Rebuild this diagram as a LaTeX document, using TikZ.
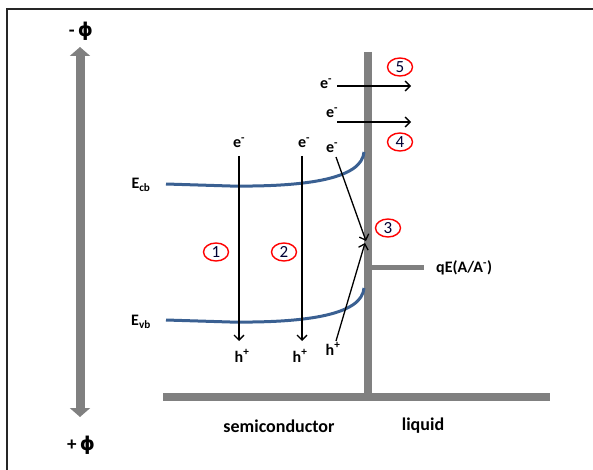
\documentclass[tikz,border=0pt]{standalone}
\usepackage{fontspec}
\setmainfont{Carlito}
\newfontfamily\phifont{DejaVu Sans}
\usetikzlibrary{arrows.meta,shapes.geometric}
\definecolor{bargray}{RGB}{128,128,128}
\definecolor{bandblue}{RGB}{58,96,146}
\tikzset{
  lbl/.style={font=\bfseries\fontsize{16}{18}\selectfont, inner sep=0pt},
  biglbl/.style={font=\bfseries\fontsize{18}{20}\selectfont, inner sep=0pt},
  philbl/.style={font=\bfseries\fontsize{19}{22}\selectfont, inner sep=0pt},
  num/.style={ellipse, draw=red, line width=1.4pt, minimum width=25pt, minimum height=18pt, inner sep=0pt, font=\fontsize{17}{18}\selectfont, text=black!80!blue},
  bar/.style={draw=bargray, line width=8pt},
  band/.style={draw=bandblue, line width=3pt},
  transit/.style={draw=black, line width=1.3pt, -{Straight Barb[length=5pt,width=10pt,line width=1.3pt]}},
}
\begin{document}
\begin{tikzpicture}[x=1pt,y=-1pt]
\useasboundingbox (0,0) rectangle (593,470);
% frame
\draw[line width=1.3pt, black!85] (7,470) -- (7,9) -- (593,9);
% potential axis
\coordinate (ptop) at (80,47);
\coordinate (pbot) at (80,417);
\draw[bargray, line width=9pt, {Triangle[length=9pt,width=20pt]}-{Triangle[length=9pt,width=20pt]}] (ptop) -- (pbot);
\node[philbl] (mphi) at (81,31) {-\,{\phifont ϕ}};
\node[philbl] (pphi) at (81,445) {+\,{\phifont ϕ}};
% bars
\coordinate (vtop) at (368,52);
\coordinate (vbot) at (368,397);
\coordinate (hl) at (163,397);
\coordinate (hr) at (550,397);
\draw[bar] (vtop) -- (vbot);
\draw[bar] (hl) -- (hr);
\coordinate (qs) at (372,267);
\coordinate (qe) at (424,267);
\draw[bargray, line width=5pt] (qs) -- (qe);
\node[lbl, anchor=west] (qE) at (436,268) {qE(A/A\textsuperscript{-})};
% bands
\draw[band] (166,184) -- (230,186) .. controls (310,187) and (362,178) .. (364,152);
\draw[band] (166,320) -- (230,322) .. controls (310,323) and (362,314) .. (364,288);
\node[lbl] (Ecb) at (141,185) {E\textsubscript{cb}};
\node[lbl] (Evb) at (141,322) {E\textsubscript{vb}};
% transitions 1 and 2
\node[lbl] (e1) at (239,143) {e\textsuperscript{-}};
\node[lbl] (e2) at (304,143) {e\textsuperscript{-}};
\node[lbl] (h1) at (242,356) {h\textsuperscript{+}};
\node[lbl] (h2) at (300,356) {h\textsuperscript{+}};
\coordinate (a1s) at (239,156);
\coordinate (a1e) at (239,341);
\coordinate (a2s) at (302,156);
\coordinate (a2e) at (302,341);
\draw[transit] (a1s) -- (a1e);
\draw[transit] (a2s) -- (a2e);
% transition 3
\node[lbl] (e3) at (332,148) {e\textsuperscript{-}};
\node[lbl] (h3) at (333,349) {h\textsuperscript{+}};
\coordinate (a3s) at (336,157);
\coordinate (a3e) at (366,241);
\coordinate (b3s) at (336,341);
\coordinate (b3e) at (365,243);
\draw[transit] (a3s) -- (a3e);
\draw[transit] (b3s) -- (b3e);
% transitions 4 and 5
\node[lbl] (e4) at (332,113) {e\textsuperscript{-}};
\node[lbl] (e5) at (326,84) {e\textsuperscript{-}};
\coordinate (a4s) at (337,122);
\coordinate (a4e) at (411,122);
\coordinate (a5s) at (337,86);
\coordinate (a5e) at (411,86);
\draw[transit] (a4s) -- (a4e);
\draw[transit] (a5s) -- (a5e);
% numbers
\node[num] (n1) at (216,252) {1};
\node[num] (n2) at (284,252) {2};
\node[num] (n3) at (388,228) {3};
\node[num] (n4) at (400,142) {4};
\node[num] (n5) at (400,67) {5};
% region labels
\node[biglbl] (semi) at (279,426) {semiconductor};
\node[biglbl] (liq) at (423,426) {liquid};
\end{tikzpicture}
\end{document}
